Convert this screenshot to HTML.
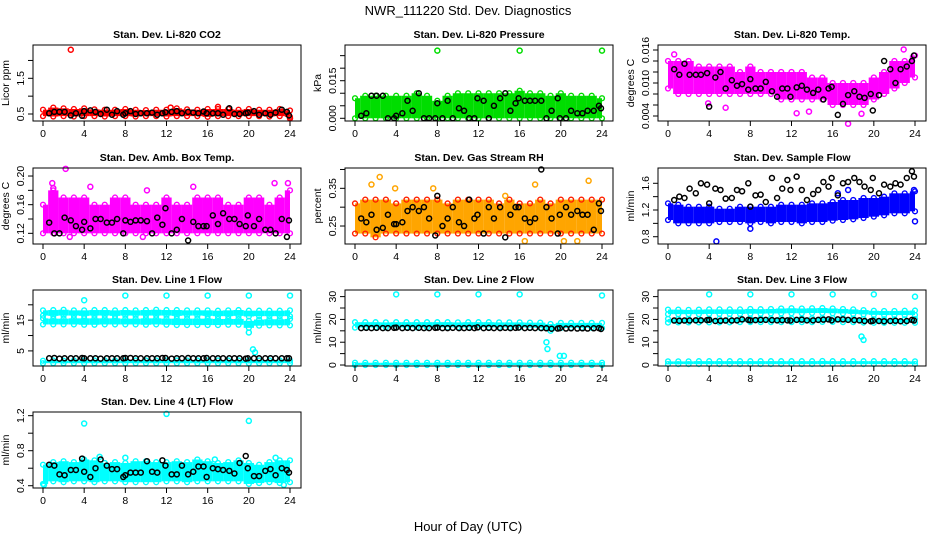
<!DOCTYPE html>
<html><head><meta charset="utf-8">
<style>
html,body{margin:0;padding:0;background:#fff;}
svg{display:block;font-family:"Liberation Sans",Arial,sans-serif;}
</style></head>
<body>
<svg id="chart" width="936" height="540" viewBox="0 0 936 540" xmlns="http://www.w3.org/2000/svg">
<text x="468" y="15" text-anchor="middle" font-size="13">NWR_111220  Std. Dev. Diagnostics</text>
<text x="468" y="531" text-anchor="middle" font-size="13">Hour of Day (UTC)</text>
</svg>
<script>
const binHours=[0,1,2,3,4,5,6,7,8,9,10,11,12,13,14,15,16,17,18,19,20,21,22,23,24];
const blackHours=[0.6,1.1,1.6,2.1,2.7,3.2,3.8,4.0,4.6,5.1,5.6,6.2,6.7,7.2,7.8,8.0,8.5,9.0,9.5,10.1,10.6,11.1,11.6,11.9,12.5,13.0,13.5,14.1,14.6,15.1,15.6,15.9,16.5,17.0,17.5,18.1,18.6,19.1,19.7,19.9,20.5,21.0,21.6,22.1,22.6,23.2,23.7,23.9];
const xTicks=[0,4,8,12,16,20,24];

// P1 CO2
const co2Lo=[0.44,0.43,0.44,0.43,0.44,0.44,0.43,0.44,0.44,0.43,0.44,0.44,0.43,0.44,0.44,0.44,0.42,0.44,0.44,0.44,0.44,0.44,0.43,0.44,0.42];
const co2Hi=[0.62,0.68,0.66,0.64,0.66,0.63,0.62,0.62,0.64,0.62,0.61,0.62,0.62,0.66,0.63,0.62,0.64,0.64,0.64,0.62,0.64,0.62,0.62,0.64,0.60];
const co2OutH=[2.7,17.0,24.0,12.4];
const co2OutV=[2.3,0.70,0.38,0.68];
const co2Black=[0.52,0.56,0.56,0.56,0.46,0.52,0.45,0.58,0.60,0.56,0.50,0.62,0.48,0.58,0.48,0.52,0.58,0.50,0.52,0.52,0.54,0.48,0.52,0.55,0.56,0.58,0.52,0.56,0.54,0.52,0.57,0.52,0.52,0.52,0.48,0.66,0.50,0.50,0.52,0.54,0.58,0.48,0.52,0.48,0.54,0.62,0.56,0.46];
// P2 Pressure
const presLo=[0,0,0,0,0,0,0,0,0,0,0,0,0,0,0,0,0,0,0,0,0,0,0,0,0];
const presHi=[0.008,0.009,0.009,0.009,0.009,0.009,0.010,0.009,0.007,0.009,0.010,0.010,0.010,0.010,0.010,0.010,0.011,0.010,0.010,0.009,0.010,0.009,0.009,0.009,0.008];
const presOutH=[8,16,24];
const presOutV=[0.027,0.027,0.027];
const presBlack=[0.001,0.002,0.009,0.009,0.009,0.000,0.000,0.001,0.002,0.007,0.003,0.010,0.000,0.000,0.000,0.006,0.000,0.007,0.000,0.004,0.003,0.000,0.000,0.008,0.007,0.000,0.005,0.008,0.010,0.003,0.006,0.008,0.007,0.007,0.007,0.007,0.000,0.003,0.008,0.000,0.000,0.003,0.002,0.002,0.003,0.003,0.005,0.004];
// P3 Temp
const tempLo=[0.009,0.008,0.008,0.008,0.008,0.008,0.008,0.008,0.008,0.008,0.008,0.007,0.007,0.007,0.007,0.007,0.006,0.006,0.006,0.006,0.007,0.008,0.009,0.010,0.011];
const tempHi=[0.014,0.014,0.014,0.013,0.013,0.013,0.013,0.012,0.013,0.012,0.012,0.012,0.012,0.012,0.011,0.011,0.010,0.010,0.010,0.010,0.011,0.012,0.014,0.014,0.015];
const tempOutH=[0.6,3.9,5.6,13.7,17.5,22.9,12.5,18.8];
const tempOutV=[0.0152,0.0063,0.0055,0.0048,0.0026,0.0161,0.0045,0.0044];
const tempBlack=[0.0125,0.0115,0.0135,0.0115,0.0115,0.0115,0.0118,0.0057,0.0110,0.0120,0.0090,0.0105,0.0095,0.0098,0.0088,0.0107,0.0090,0.0090,0.0102,0.0085,0.0075,0.0090,0.0090,0.0075,0.0092,0.0095,0.0088,0.0082,0.0088,0.0070,0.0090,0.0093,0.0042,0.0062,0.0078,0.0085,0.0075,0.0073,0.0080,0.0050,0.0078,0.0140,0.0125,0.0100,0.0125,0.0130,0.0140,0.0150];
// P4 Amb box
const ambLo=[0.12,0.12,0.12,0.12,0.12,0.12,0.12,0.12,0.12,0.12,0.12,0.12,0.12,0.12,0.12,0.12,0.12,0.12,0.12,0.12,0.12,0.12,0.12,0.12,0.12];
const ambHi=[0.16,0.18,0.17,0.17,0.17,0.16,0.16,0.17,0.17,0.16,0.16,0.16,0.17,0.16,0.16,0.17,0.17,0.17,0.16,0.16,0.17,0.17,0.16,0.17,0.18];
const ambOutH=[2.2,0.9,4.6,1.0,10.1,14.6,22.5,23.8,2.6,9.7];
const ambOutV=[0.21,0.19,0.185,0.183,0.18,0.185,0.19,0.19,0.115,0.115];
const ambBlack=[0.135,0.12,0.12,0.142,0.138,0.13,0.125,0.136,0.127,0.14,0.14,0.135,0.135,0.14,0.12,0.138,0.136,0.138,0.138,0.137,0.12,0.142,0.132,0.155,0.12,0.125,0.14,0.11,0.136,0.13,0.13,0.13,0.145,0.133,0.148,0.14,0.14,0.133,0.13,0.145,0.13,0.14,0.125,0.125,0.12,0.14,0.115,0.138];
// P5 RH
const rhLo=[0.23,0.23,0.22,0.23,0.23,0.23,0.23,0.23,0.23,0.23,0.23,0.23,0.23,0.23,0.23,0.23,0.23,0.23,0.23,0.23,0.23,0.23,0.23,0.23,0.23];
const rhHi=[0.31,0.32,0.32,0.32,0.31,0.32,0.32,0.32,0.32,0.31,0.32,0.32,0.32,0.32,0.31,0.32,0.31,0.31,0.32,0.31,0.32,0.32,0.32,0.32,0.32];
const rhOutH=[2.4,1.6,7.6,3.9,14.6,17.5,22.7,20.3,21.6,16.5];
const rhOutV=[0.38,0.36,0.35,0.35,0.33,0.36,0.37,0.21,0.21,0.21];
const rhBlack=[0.27,0.26,0.28,0.24,0.245,0.28,0.255,0.255,0.26,0.29,0.30,0.29,0.30,0.27,0.225,0.33,0.25,0.27,0.30,0.26,0.25,0.32,0.27,0.28,0.23,0.30,0.27,0.30,0.22,0.28,0.30,0.30,0.27,0.26,0.27,0.40,0.30,0.27,0.23,0.28,0.30,0.28,0.29,0.28,0.28,0.24,0.31,0.29];
// P6 Sample flow
const sfLo=[1.05,1.0,1.0,1.0,1.0,1.02,1.02,1.02,1.0,1.02,1.0,1.02,1.02,1.0,1.02,1.02,1.04,1.05,1.06,1.08,1.1,1.12,1.15,1.15,1.18];
const sfHi=[1.3,1.28,1.25,1.25,1.25,1.22,1.22,1.25,1.25,1.25,1.25,1.28,1.28,1.28,1.3,1.3,1.32,1.35,1.35,1.38,1.38,1.4,1.45,1.45,1.48];
const sfOutH=[4.7,8.0,24.0,16.5,17.5,23.9];
const sfOutV=[0.73,0.92,1.03,1.45,1.5,1.5];
const sfBlack=[1.35,1.4,1.38,1.52,1.45,1.6,1.58,1.3,1.52,1.5,1.37,1.38,1.5,1.48,1.6,1.25,1.42,1.43,1.32,1.68,1.38,1.52,1.65,1.5,1.7,1.5,1.35,1.44,1.5,1.62,1.55,1.68,1.42,1.6,1.62,1.68,1.62,1.55,1.5,1.68,1.45,1.58,1.55,1.6,1.58,1.68,1.78,1.7];
// P7 Line 1
const l1aLo=[16.5,16.4,16.5,16.5,16.4,16.5,16.5,16.4,16.5,16.5,16.5,16.5,16.5,16.4,16.5,16.5,16.4,16.3,16.3,16.4,16.2,16.3,16.3,16.3,16.3];
const l1aHi=[18.2,18.3,18.4,18.2,18.2,18.3,18.3,18.2,18.3,18.2,18.3,18.4,18.3,18.3,18.2,18.2,18.2,18.1,18.2,18.3,18.1,18.1,18.1,18.1,18.2];
const l1bLo=[13.6,13.6,13.6,13.6,13.5,13.5,13.6,13.6,13.6,13.6,13.5,13.6,13.5,13.4,13.4,13.4,13.4,13.4,13.5,13.5,12.5,13.2,13.3,13.3,13.3];
const l1bHi=[15.6,15.5,15.5,15.6,15.6,15.6,15.6,15.6,15.5,15.5,15.6,15.6,15.5,15.5,15.5,15.5,15.5,15.4,15.4,15.4,14.8,15.2,15.3,15.3,15.4];
const l1cLo=[1.0,1.0,1.0,1.0,1.0,1.0,1.0,1.0,1.0,1.0,1.0,1.0,1.0,1.0,1.0,1.0,1.0,1.0,1.0,1.0,1.0,1.0,1.0,1.0,1.0];
const l1cHi=[1.8,1.9,1.8,1.9,1.9,1.9,1.9,1.9,1.9,1.9,1.9,1.9,1.9,1.9,1.9,1.9,1.9,1.9,1.9,1.9,1.9,1.9,1.9,1.9,1.8];
const l1OutH=[4,8,12,16,20,24,20,20.4,20.6];
const l1OutV=[21.5,23,23,23,23,23,11,5.5,4.5];
const l1Black=[2.6,2.7,2.5,2.6,2.6,2.6,2.7,2.6,2.6,2.6,2.5,2.6,2.6,2.6,2.6,2.7,2.7,2.6,2.6,2.6,2.6,2.6,2.7,2.7,2.5,2.6,2.6,2.7,2.6,2.6,2.6,2.7,2.6,2.6,2.6,2.6,2.6,2.6,2.5,2.6,2.6,2.6,2.6,2.6,2.6,2.6,2.6,2.6];
// P8 Line 2
const l2aLo=[16.4,16.5,16.5,16.5,16.5,16.5,16.5,16.5,16.5,16.5,16.5,16.5,16.5,16.5,16.5,16.5,16.5,16.4,16.3,15.0,16.2,16.3,16.3,16.3,16.2];
const l2aHi=[18.8,18.8,18.8,18.7,18.8,18.8,18.8,18.8,18.8,18.8,18.7,18.8,18.8,18.8,18.7,18.7,18.7,18.6,18.6,18.0,18.5,18.5,18.5,18.5,18.5];
const l2bLo=[0,0,0,0,0,0,0,0,0,0,0,0,0,0,0,0,0,0,0,0,0,0,0,0,0];
const l2bHi=[1.0,1.0,1.0,1.0,1.0,1.0,1.0,1.0,1.0,1.0,1.0,1.0,1.0,1.0,1.0,1.0,1.0,1.0,1.0,1.0,1.0,1.0,1.0,1.0,1.0];
const l2OutH=[4,8,12,16,24,18.6,18.7,19.9,20.3];
const l2OutV=[31,31,31,31,30.5,10,7,4,4];
const l2Black=[16.2,16.3,16.2,16.3,16.2,16.2,16.3,16.4,16.2,16.3,16.2,16.3,16.2,16.2,16.3,16.4,16.2,16.2,16.3,16.2,16.2,16.3,16.2,16.5,16.2,16.3,16.2,16.2,16.3,16.2,16.3,16.4,16.2,16.3,16.2,16.2,16.1,15.9,16.0,16.2,16.0,16.1,16.0,16.1,16.0,16.1,16.2,15.8];
// P9 Line 3
const l3aLo=[22.3,22.3,22.3,22.3,22.4,22.4,22.4,22.4,22.5,22.5,22.6,22.6,22.7,22.7,22.8,22.8,22.7,22.6,22.4,22.2,22.0,21.9,21.9,21.9,21.9];
const l3aHi=[24.3,24.3,24.2,24.3,24.4,24.4,24.4,24.4,24.6,24.5,24.6,24.8,24.9,24.8,24.9,25.0,24.8,24.6,24.4,24.1,23.8,23.7,23.7,23.8,23.9];
const l3bLo=[18.6,18.7,18.7,18.7,18.7,18.7,18.7,18.8,18.8,18.8,18.8,18.8,18.8,18.8,18.8,18.9,18.9,18.8,18.8,18.6,18.5,18.5,18.5,18.5,18.5];
const l3bHi=[20.2,20.2,20.2,20.2,20.3,20.3,20.4,20.4,20.4,20.4,20.4,20.4,20.4,20.5,20.5,20.6,20.6,20.5,20.4,20.2,20.1,20.1,20.1,20.1,20.2];
const l3cLo=[0.4,0.4,0.4,0.4,0.4,0.4,0.4,0.4,0.4,0.4,0.4,0.4,0.4,0.4,0.4,0.4,0.4,0.4,0.4,0.4,0.4,0.4,0.4,0.4,0.4];
const l3cHi=[1.6,1.6,1.6,1.7,1.7,1.7,1.7,1.7,1.7,1.7,1.7,1.7,1.7,1.7,1.7,1.8,1.7,1.7,1.7,1.7,1.7,1.7,1.7,1.7,1.6];
const l3OutH=[4,8,12,16,20,24,18.8,19.0];
const l3OutV=[31,31,31,31,31,30,12.5,11];
const l3Black=[19.5,19.4,19.5,19.5,19.6,19.6,19.7,19.8,19.3,19.4,19.5,19.5,19.6,20.0,19.8,19.6,19.7,19.8,19.8,19.7,19.6,19.7,19.6,19.5,19.8,19.9,19.6,19.6,19.8,19.9,20.0,19.6,20.0,20.0,19.8,19.7,19.6,19.3,19.2,19.4,19.3,19.2,19.3,19.4,19.2,19.3,19.8,19.5];
// P10 Line 4
const l4Lo=[0.42,0.45,0.44,0.45,0.45,0.44,0.45,0.45,0.44,0.44,0.44,0.44,0.45,0.45,0.44,0.45,0.45,0.45,0.45,0.45,0.42,0.43,0.44,0.43,0.44];
const l4Hi=[0.64,0.67,0.68,0.67,0.70,0.69,0.66,0.67,0.66,0.68,0.68,0.67,0.67,0.68,0.67,0.70,0.68,0.66,0.67,0.69,0.66,0.64,0.67,0.69,0.69];
const l4OutH=[4,12,20,5.5,16.7,22.6,8,0.1,23.4];
const l4OutV=[1.11,1.22,1.14,0.73,0.70,0.72,0.72,0.41,0.41];
const l4Black=[0.64,0.63,0.53,0.52,0.58,0.58,0.71,0.56,0.50,0.60,0.70,0.63,0.59,0.59,0.50,0.52,0.55,0.55,0.55,0.68,0.56,0.55,0.69,0.63,0.53,0.53,0.63,0.53,0.56,0.62,0.62,0.50,0.60,0.59,0.58,0.57,0.54,0.66,0.74,0.60,0.51,0.51,0.57,0.59,0.52,0.60,0.58,0.55];

const colLeft=[33,345,658], rowTop=[45,168,290,412], boxW=268, boxH=76;
const panels=[
 {name:'li820-co2',title:'Stan. Dev. Li-820 CO2',ylab:'Licor ppm',c:0,r:0,ymin:0.304,ymax:2.433,ticks:[0.5,1.0,1.5,2.0],labels:['0.5','','1.5',''],col:'#ff0000',bands:[[co2Lo,co2Hi]],oh:co2OutH,ov:co2OutV,blk:co2Black},
 {name:'li820-pressure',title:'Stan. Dev. Li-820 Pressure',ylab:'kPa',c:1,r:0,ymin:-0.00108,ymax:0.02925,ticks:[0,0.005,0.01,0.015,0.02,0.025],labels:['0.000','','','0.015','',''],col:'#00dd00',bands:[[presLo,presHi]],oh:presOutH,ov:presOutV,blk:presBlack},
 {name:'li820-temp',title:'Stan. Dev. Li-820 Temp.',ylab:'degrees C',c:2,r:0,ymin:0.00309,ymax:0.01691,ticks:[0.004,0.006,0.008,0.010,0.012,0.014,0.016],labels:['0.004','','','0.010','','','0.016'],col:'#ff00ff',bands:[[tempLo,tempHi]],oh:tempOutH,ov:tempOutV,blk:tempBlack},
 {name:'amb-box-temp',title:'Stan. Dev. Amb. Box Temp.',ylab:'degrees C',c:0,r:1,ymin:0.1051,ymax:0.2112,ticks:[0.12,0.14,0.16,0.18,0.20],labels:['0.12','','0.16','','0.20'],col:'#ff00ff',bands:[[ambLo,ambHi]],oh:ambOutH,ov:ambOutV,blk:ambBlack},
 {name:'gas-stream-rh',title:'Stan. Dev. Gas Stream RH',ylab:'percent',c:1,r:1,ymin:0.2023,ymax:0.4039,ticks:[0.25,0.30,0.35,0.40],labels:['0.25','','0.35',''],col:'#ffa500',stroke:'#ff2000',bands:[[rhLo,rhHi]],oh:rhOutH,ov:rhOutV,blk:rhBlack},
 {name:'sample-flow',title:'Stan. Dev. Sample Flow',ylab:'ml/min',c:2,r:1,ymin:0.691,ymax:1.829,ticks:[0.8,1.0,1.2,1.4,1.6],labels:['0.8','','1.2','','1.6'],col:'#0000ff',bands:[[sfLo,sfHi]],oh:sfOutH,ov:sfOutV,blk:sfBlack},
 {name:'line1-flow',title:'Stan. Dev. Line 1 Flow',ylab:'ml/min',c:0,r:2,ymin:0.085,ymax:24.82,ticks:[5,10,15,20],labels:['5','','15',''],col:'#00ffff',bands:[[l1aLo,l1aHi],[l1bLo,l1bHi],[l1cLo,l1cHi]],oh:l1OutH,ov:l1OutV,blk:l1Black},
 {name:'line2-flow',title:'Stan. Dev. Line 2 Flow',ylab:'ml/min',c:1,r:2,ymin:-0.43,ymax:32.9,ticks:[0,5,10,15,20,25,30],labels:['0','','10','','20','','30'],col:'#00ffff',bands:[[l2aLo,l2aHi],[l2bLo,l2bHi]],oh:l2OutH,ov:l2OutV,blk:l2Black},
 {name:'line3-flow',title:'Stan. Dev. Line 3 Flow',ylab:'ml/min',c:2,r:2,ymin:-0.43,ymax:32.9,ticks:[0,5,10,15,20,25,30],labels:['0','','10','','20','','30'],col:'#00ffff',bands:[[l3aLo,l3aHi],[l3bLo,l3bHi],[l3cLo,l3cHi]],oh:l3OutH,ov:l3OutV,blk:l3Black},
 {name:'line4-flow',title:'Stan. Dev. Line 4 (LT) Flow',ylab:'ml/min',c:0,r:3,ymin:0.374,ymax:1.242,ticks:[0.4,0.6,0.8,1.0,1.2],labels:['0.4','','0.8','','1.2'],col:'#00ffff',bands:[[l4Lo,l4Hi]],oh:l4OutH,ov:l4OutV,blk:l4Black}
];
const svg=document.getElementById('chart');
const NS='http://www.w3.org/2000/svg';
function mk(tag,attrs,parent){const e=document.createElementNS(NS,tag);for(const k in attrs)e.setAttribute(k,attrs[k]);parent.appendChild(e);return e;}
panels.forEach(p=>{
  const L=colLeft[p.c],T=rowTop[p.r],B=T+boxH,R=L+boxW;
  const xs=h=>L+10+h/24*247;
  const ys=v=>B-(v-p.ymin)/(p.ymax-p.ymin)*boxH;
  const g=mk('g',{},svg);
  
  
  const t=mk('text',{x:(L+R)/2,y:T-7,'text-anchor':'middle','font-size':'10.5','font-weight':'bold'},g);
  t.textContent=p.title;
  
  
  const yl=mk('text',{transform:`translate(${L-24},${(T+B)/2}) rotate(-90)`,'text-anchor':'middle','font-size':'10.5'},g);
  yl.textContent=p.ylab;
  
  
  const marks=mk('g',{},g);
  
  
  p.bands.forEach(([lo,hi])=>{
    binHours.forEach((h,i)=>{
      const h0=Math.max(0,h-0.5),h1=Math.min(24,h+0.5);
      const y1=ys(hi[i]),y0=ys(lo[i]);
      const rc=mk('rect',{x:xs(h0),y:y1,width:xs(h1)-xs(h0),height:Math.max(1,y0-y1),fill:p.col},marks);
      
      
      [lo[i],hi[i]].forEach(v=>{
        const c=mk('circle',{cx:xs(h),cy:ys(v),r:2.4,fill:'none',stroke:p.stroke||p.col,'stroke-width':1.4},marks);
        
        
      });
    });
  });
  p.oh.forEach((h,i)=>{
    const c=mk('circle',{cx:xs(h),cy:ys(p.ov[i]),r:2.5,fill:'none',stroke:p.col,'stroke-width':1.5},marks);
    
    
  });
  const n=Math.min(blackHours.length,p.blk.length);
  for(let i=0;i<n;i++){
    const c=mk('circle',{cx:xs(blackHours[i]),cy:ys(p.blk[i]),r:2.5,fill:'none',stroke:'#000','stroke-width':1.5},marks);
    
    
  }
  const box=mk('rect',{x:L,y:T,width:boxW,height:boxH,fill:'none',stroke:'#000','stroke-width':1},g);
  
  
  xTicks.forEach(h=>{
    mk('line',{x1:xs(h),x2:xs(h),y1:B,y2:B+5,stroke:'#000'},g);
    const tx=mk('text',{x:xs(h),y:B+16,'text-anchor':'middle','font-size':'10.5'},g);
    tx.textContent=h;
    
    
  });
  p.ticks.forEach((v,i)=>{
    mk('line',{x1:L-5,x2:L,y1:ys(v),y2:ys(v),stroke:'#000'},g);
    if(p.labels[i]){
      const ty=mk('text',{transform:`translate(${L-9},${ys(v)}) rotate(-90)`,'text-anchor':'middle','font-size':'10.5'},g);
      ty.textContent=p.labels[i];
      
      
    }
  });
});
</script>
</body></html>
